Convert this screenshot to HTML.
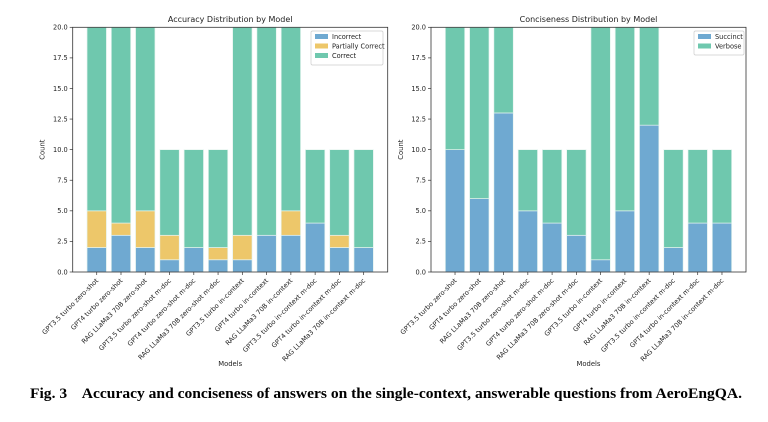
<!DOCTYPE html>
<html><head><meta charset="utf-8"><style>
body{margin:0;background:#fff;width:768px;height:422px;overflow:hidden}
svg{display:block;font-family:"DejaVu Sans","Liberation Sans",sans-serif}
</style></head><body>
<svg id="fig" width="768" height="422" xmlns="http://www.w3.org/2000/svg">
<text x="386" y="398" text-anchor="middle" font-family="'Liberation Serif',serif" font-weight="bold" font-size="14.5" textLength="712" lengthAdjust="spacingAndGlyphs" style="white-space:pre" xml:space="preserve">Fig. 3    Accuracy and conciseness of answers on the single-context, answerable questions from AeroEngQA.</text>
</svg>
<script>
const models=["GPT3.5 turbo zero-shot","GPT4 turbo zero-shot","RAG LLaMa3 70B zero-shot","GPT3.5 turbo zero-shot m-doc","GPT4 turbo zero-shot m-doc","RAG LLaMa3 70B zero-shot m-doc","GPT3.5 turbo in-context","GPT4 turbo in-context","RAG LLaMa3 70B in-context","GPT3.5 turbo in-context m-doc","GPT4 turbo in-context m-doc","RAG LLaMa3 70B in-context m-doc"];
const incorrect=[2,3,2,1,2,1,1,3,3,4,2,2];
const partial=[3,1,3,2,0,1,2,0,2,0,1,0];
const correct=[15,16,15,7,8,8,17,17,15,6,7,8];
const succinct=[10,6,13,5,4,3,1,5,12,2,4,4];
const verbose=[10,14,7,5,6,7,19,15,8,8,6,6];
const yTicks=[0,2.5,5,7.5,10,12.5,15,17.5,20];
const C={blue:"#6fa9d1",yellow:"#edc76a",green:"#6fc8ae"};
const svg=document.getElementById('fig');
const NS="http://www.w3.org/2000/svg";
function el(t,a,txt){const e=document.createElementNS(NS,t);for(const k in a)e.setAttribute(k,a[k]);if(txt!==undefined)e.textContent=txt;svg.appendChild(e);return e;}
function chart(px,title,series,legendX,legendW,prefix){
  const top=27.3,bot=272,w=315;
  const y=v=>bot-(v/20)*(bot-top);
  const x=i=>px+(i+0.99)*(w/12.98);
  const bw=0.8*w/12.98;
  let t=el('text',{x:px+w/2,y:22,'text-anchor':'middle','font-size':8,fill:'#222'},title);
  
  models.forEach((m,i)=>{
    let base=0;
    series.forEach(s=>{
      const v=s.data[i];
      if(v>0){const r=el('rect',{x:x(i)-bw/2,y:y(base+v),width:bw,height:y(base)-y(base+v),fill:s.color,stroke:'#e6f4ef','stroke-width':0.7});
      }
      base+=v;
    });
    const tk=el('line',{x1:x(i),x2:x(i),y1:bot,y2:bot+3,stroke:'#333','stroke-width':0.7});
    
    const lb=el('text',{x:x(i)+2,y:bot+9,'text-anchor':'end','font-size':6.6,fill:'#222',transform:`rotate(-45 ${x(i)+2} ${bot+9})`},m);
    
  });
  const f=el('rect',{x:px,y:top,width:w,height:bot-top,fill:'none',stroke:'#333','stroke-width':0.8});
  
  yTicks.forEach(v=>{
    const l=el('line',{x1:px-3,x2:px,y1:y(v),y2:y(v),stroke:'#333','stroke-width':0.7});
    
    const tt=el('text',{x:px-5,y:y(v)+2.3,'text-anchor':'end','font-size':6.6,fill:'#222'},v.toFixed(1));
    
  });
  const yl=el('text',{x:px-28,y:(top+bot)/2,'text-anchor':'middle','font-size':6.8,fill:'#222',transform:`rotate(-90 ${px-28} ${(top+bot)/2})`},'Count');
  
  const xl=el('text',{x:px+w/2,y:366,'text-anchor':'middle','font-size':6.8,fill:'#222'},'Models');
  
  const lh=10*series.length+4;
  const lg=el('rect',{x:legendX,y:31,width:legendW,height:lh,fill:'#fff',stroke:'#ccc','stroke-width':0.7,rx:1.5});
  
  series.forEach((s,k)=>{
    const sw=el('rect',{x:legendX+4,y:34+k*9.5,width:13,height:5,fill:s.color});
    
    const lt=el('text',{x:legendX+21,y:39+k*9.5,'font-size':6.6,fill:'#222'},s.label);
    
  });
}
chart(72.7,'Accuracy Distribution by Model',[
 {key:'incorrect',label:'Incorrect',data:incorrect,color:C.blue},
 {key:'partial',label:'Partially Correct',data:partial,color:C.yellow},
 {key:'correct',label:'Correct',data:correct,color:C.green}],311,72,'accuracy');
chart(431,'Conciseness Distribution by Model',[
 {key:'succinct',label:'Succinct',data:succinct,color:C.blue},
 {key:'verbose',label:'Verbose',data:verbose,color:C.green}],694,50,'conciseness');
</script>
</body></html>
